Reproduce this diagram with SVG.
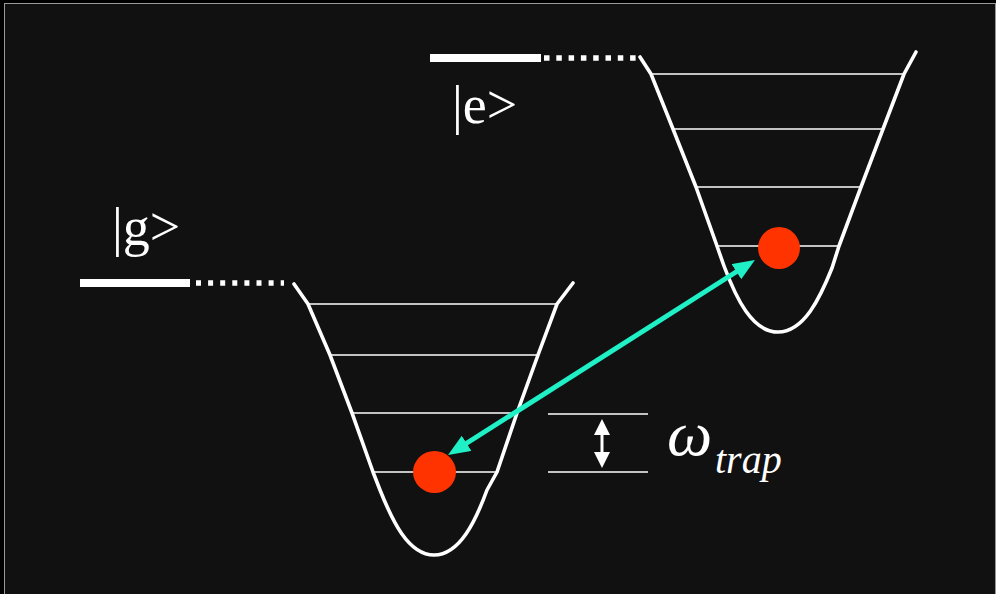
<svg xmlns="http://www.w3.org/2000/svg" width="996" height="594" viewBox="0 0 996 594">
<style>
.well{fill:none;stroke:#fff;stroke-width:3.6;stroke-linejoin:round;stroke-linecap:round}
.lvl{stroke:#fff;stroke-width:1.6}
.bar{stroke:#fff;stroke-width:8}
.dots{stroke:#fff;stroke-width:5.5}
.dot{fill:#ff3300}
.cyan{stroke:#1ff0c6;stroke-width:5}
text{font-family:Liberation Serif,Times New Roman,Times,Tinos,DejaVu Serif,Noto Serif,serif;fill:#fff}
</style>
<defs>
<marker id="cy" markerUnits="userSpaceOnUse" markerWidth="24" markerHeight="20" refX="7" refY="9" orient="auto-start-reverse">
<path d="M0,0 L22,9 L0,18 Z" fill="#1ff0c6"/>
</marker>
</defs>
<rect x="0" y="0" width="996" height="594" fill="#000"/>
<rect x="4.5" y="3.5" width="991" height="591" fill="#111" stroke="#999" stroke-width="1"/>

<g id="ground-state">
<line class="bar" x1="80" y1="283" x2="190" y2="283"/>
<line class="dots" x1="196" y1="283" x2="284" y2="283" stroke-dasharray="5 7.1"/>
<text x="112" y="245" font-size="54">|g&gt;</text>
<path id="ground-well" class="well" d="M294,284 L308,304 L330,355 L352,413 L373,472 L380,490 C392,520 408,555 434,555 C460,555 476,520 487,490 L497,472 L517,413 L538,355 L557,304 L573,283"/>
<line class="lvl" x1="308" y1="304" x2="557" y2="304"/>
<line class="lvl" x1="330" y1="355" x2="538" y2="355"/>
<line class="lvl" x1="352" y1="413" x2="517" y2="413"/>
<line class="lvl" x1="373" y1="472" x2="497" y2="472"/>
</g>

<g id="excited-state">
<line class="bar" x1="430" y1="58" x2="541" y2="58"/>
<line class="dots" x1="544" y1="58" x2="636" y2="58" stroke-dasharray="5.5 6.8"/>
<text x="452" y="123" font-size="54">|e&gt;</text>
<path id="excited-well" class="well" d="M640,57 L651,74 L673,129 L696,187 L717,246 L724,266 C736,298 752,332 778,332 C804,332 820,298 832,268 L839,246 L861,187 L883,129 L904,74 L916,52"/>
<line class="lvl" x1="652" y1="74" x2="904" y2="74"/>
<line class="lvl" x1="674" y1="129" x2="883" y2="129"/>
<line class="lvl" x1="697" y1="187" x2="861" y2="187"/>
<line class="lvl" x1="718" y1="246" x2="839" y2="246"/>
</g>

<g id="atom-ground">
<ellipse class="dot" cx="434.5" cy="472" rx="21.5" ry="21"/>
</g>
<g id="atom-excited">
<circle class="dot" cx="779" cy="248" r="21"/>
</g>

<g id="connectors">
<line class="cyan" x1="460.7" y1="447" x2="742.3" y2="268" marker-start="url(#cy)" marker-end="url(#cy)"/>
<line class="lvl" x1="548" y1="414" x2="648" y2="414"/>
<line class="lvl" x1="548" y1="472" x2="648" y2="472"/>
<line x1="602" y1="434" x2="602" y2="453" stroke="#fff" stroke-width="3"/>
<path d="M602,419 L594,435 L610,435 Z M602,468 L594,452 L610,452 Z" fill="#fff"/>
</g>

<g id="trap-label">
<text x="667" y="455" font-size="64" font-style="italic">ω</text>
<text x="715" y="473" font-size="40" font-style="italic">trap</text>
</g>
</svg>
